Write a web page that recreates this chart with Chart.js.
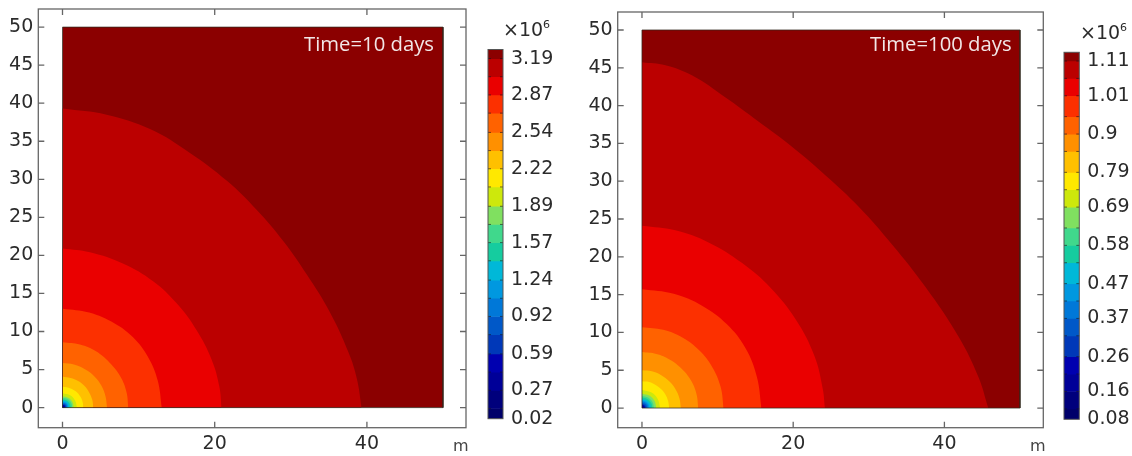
<!DOCTYPE html>
<html lang="en">
<head>
    <meta charset="UTF-8">
    <title>Pressure contours at 10 and 100 days</title>
    <script src="https://cdn.jsdelivr.net/npm/chart.js"></script>
    <style>
        html, body { margin: 0; padding: 0; background: #fff; }
        body { position: relative; width: 1132px; height: 456px; overflow: hidden; font-family: "DejaVu Sans", sans-serif; color: #2b2b2b; }
        canvas { position: absolute; top: 0; filter: blur(0.45px); }
        .note { position: absolute; white-space: nowrap; filter: blur(0.3px); }
        .time { font-family: "Open Sans", sans-serif; font-size: 20.3px; color: #f2e6e6; }
        .mult { font-size: 19px; }
        .mult sup { font-size: 11px; position: relative; top: -8px; vertical-align: baseline; }
        .unit { font-size: 16px; color: #444; }
    </style>
</head>
<body>
    <canvas id="plot10" width="480" height="456" style="left:0"></canvas>
    <canvas id="bar10" width="72" height="456" style="left:487px"></canvas>
    <canvas id="plot100" width="470" height="456" style="left:580px"></canvas>
    <canvas id="bar100" width="68" height="456" style="left:1063px"></canvas>

    <div class="note time" style="left:304px;top:29px">Time=10 days</div>
    <div class="note time" style="left:870px;top:29px">Time=100 days</div>
    <div class="note mult" style="left:503px;top:18px">×10<sup>6</sup></div>
    <div class="note mult" style="left:1080px;top:21px">×10<sup>6</sup></div>
    <div class="note unit" style="left:453px;top:436px">m</div>
    <div class="note unit" style="left:1030px;top:436px">m</div>

    <script>
    const xTicks = [0, 20, 40];
    const yTicks = [0, 5, 10, 15, 20, 25, 30, 35, 40, 45, 50];

    // same colour table on both plots, outer band first
    const bandColors = ['#8b0000', '#bb0000', '#ea0000', '#fc3000', '#ff6200', '#ff9000', '#ffc000', '#ffe800',
        '#cde80c', '#80e060', '#40d88c', '#15cc9f', '#00b8d8', '#0098e0', '#0078d8', '#0058c8',
        '#0038b8', '#0000b0', '#000098', '#00007c', '#00006a'];

    // colour bar edges, top to bottom
    const levels10 = [3.27, 3.19, 3.03, 2.87, 2.71, 2.54, 2.38, 2.22, 2.06, 1.89, 1.73, 1.57, 1.41, 1.24, 1.08, 0.92, 0.76, 0.59, 0.43, 0.27, 0.11, 0.02];
    const barLabels10 = [3.19, 2.87, 2.54, 2.22, 1.89, 1.57, 1.24, 0.92, 0.59, 0.27, 0.02];
    const levels100 = [1.135, 1.11, 1.06, 1.01, 0.95, 0.9, 0.85, 0.79, 0.74, 0.69, 0.63, 0.58, 0.53, 0.47, 0.42, 0.37, 0.32, 0.26, 0.21, 0.16, 0.11, 0.08];
    const barLabels100 = [1.11, 1.01, 0.9, 0.79, 0.69, 0.58, 0.47, 0.37, 0.26, 0.16, 0.08];

    // band outlines, in metres
    const contours10 = [
        [[0, 50], [50, 50]],
        [[0, 39.3], [5.8, 38.5], [11.5, 36.6], [16.7, 33.5], [21.6, 29.8], [25.5, 26], [29, 21.9], [32.1, 17.5], [35.1, 12.6], [37.6, 7.2], [38.7, 3.7], [39.3, 0]],
        [[0, 20.9], [3.6, 20.4], [8, 18.9], [11.9, 16.6], [15, 13.7], [17.6, 10.2], [19.6, 6.3], [20.6, 2.8], [20.9, 0]],
        [[0, 13], [3.5, 12.5], [6.8, 11.1], [9.3, 9.2], [11.2, 6.7], [12.5, 3.6], [13.05, 0]],
        [[0, 8.6], [2.3, 8.3], [4.4, 7.4], [6.2, 5.9], [7.6, 4.1], [8.4, 2.1], [8.65, 0]],
        [[0, 5.85], [1.5, 5.65], [3, 5], [4.2, 4.1], [5.1, 2.9], [5.65, 1.5], [5.85, 0]],
        [[0, 4.05], [1.05, 3.9], [2.05, 3.5], [2.9, 2.85], [3.5, 2], [3.9, 1.05], [4.05, 0]],
        [[0, 2.75], [0.7, 2.65], [1.4, 2.35], [1.95, 1.95], [2.4, 1.35], [2.65, 0.7], [2.75, 0]],
        [[0, 1.9], [0.95, 1.65], [1.65, 0.95], [1.9, 0]],
        [[0, 1.5], [0.75, 1.3], [1.3, 0.75], [1.5, 0]],
        [[0, 1.3], [0.65, 1.13], [1.13, 0.65], [1.3, 0]],
        [[0, 1.1], [0.55, 0.95], [0.95, 0.55], [1.1, 0]],
        [[0, 0.95], [0.48, 0.82], [0.82, 0.48], [0.95, 0]],
        [[0, 0.8], [0.4, 0.69], [0.69, 0.4], [0.8, 0]],
        [[0, 0.68], [0.34, 0.59], [0.59, 0.34], [0.68, 0]],
        [[0, 0.58], [0.29, 0.5], [0.5, 0.29], [0.58, 0]],
        [[0, 0.48], [0.24, 0.42], [0.42, 0.24], [0.48, 0]],
        [[0, 0.38], [0.19, 0.33], [0.33, 0.19], [0.38, 0]],
        [[0, 0.28], [0.14, 0.24], [0.24, 0.14], [0.28, 0]],
        [[0, 0.18], [0.09, 0.16], [0.16, 0.09], [0.18, 0]],
        [[0, 0.1], [0.05, 0.09], [0.09, 0.05], [0.1, 0]]
    ];
    const contours100 = [
        [[0, 50], [50, 50]],
        [[0, 45.75], [3.1, 45.35], [6.6, 44], [11, 41.1], [15.4, 37.9], [19.8, 34.6], [24.25, 30.8], [28.7, 26.6], [33.1, 21.6], [37.5, 16], [41.9, 9.4], [44.5, 4.1], [45.8, 0]],
        [[0, 24.1], [4.4, 23.5], [8.8, 21.9], [13.2, 19.2], [17, 15.9], [20.4, 11.6], [22.8, 6.9], [23.9, 2.6], [24.2, 0]],
        [[0, 15.7], [4.2, 15.1], [8, 13.5], [11.2, 11.1], [13.7, 7.9], [15.2, 4.1], [15.8, 0]],
        [[0, 10.7], [2.8, 10.35], [5.4, 9.3], [7.6, 7.6], [9.3, 5.4], [10.4, 2.8], [10.8, 0]],
        [[0, 7.4], [1.9, 7.15], [3.7, 6.4], [5.25, 5.2], [6.45, 3.7], [7.2, 1.9], [7.45, 0]],
        [[0, 5], [1.3, 4.85], [2.55, 4.35], [3.6, 3.55], [4.4, 2.55], [4.95, 1.3], [5.15, 0]],
        [[0, 3.55], [0.95, 3.45], [1.8, 3.05], [2.55, 2.5], [3.1, 1.8], [3.45, 0.95], [3.6, 0]],
        [[0, 2.4], [1.2, 2.08], [2.08, 1.2], [2.4, 0]],
        [[0, 1.9], [0.95, 1.65], [1.65, 0.95], [1.9, 0]],
        [[0, 1.6], [0.8, 1.39], [1.39, 0.8], [1.6, 0]],
        [[0, 1.4], [0.7, 1.21], [1.21, 0.7], [1.4, 0]],
        [[0, 1.2], [0.6, 1.04], [1.04, 0.6], [1.2, 0]],
        [[0, 1], [0.5, 0.87], [0.87, 0.5], [1, 0]],
        [[0, 0.85], [0.43, 0.74], [0.74, 0.43], [0.85, 0]],
        [[0, 0.7], [0.35, 0.61], [0.61, 0.35], [0.7, 0]],
        [[0, 0.55], [0.28, 0.48], [0.48, 0.28], [0.55, 0]],
        [[0, 0.42], [0.21, 0.36], [0.36, 0.21], [0.42, 0]],
        [[0, 0.3], [0.15, 0.26], [0.26, 0.15], [0.3, 0]],
        [[0, 0.18], [0.09, 0.16], [0.16, 0.09], [0.18, 0]],
        [[0, 0.1], [0.05, 0.09], [0.09, 0.05], [0.1, 0]]
    ];
    const domainEdge = [[0, 0], [0, 50], [50, 50], [50, 0], [0, 0]];

    const labelFont = { family: '"DejaVu Sans"', size: 19 };
    const labelColor = '#2b2b2b';

    // ticks point inward from the frame on all four sides
    const frameTicks = {
        id: 'frameTicks',
        afterDraw(chart) {
            const { ctx, chartArea: a, scales: { x, y } } = chart;
            const len = 6;
            ctx.save();
            ctx.strokeStyle = '#666';
            ctx.lineWidth = 1.3;
            ctx.strokeRect(a.left, a.top, a.right - a.left, a.bottom - a.top);
            ctx.beginPath();
            x.ticks.forEach(t => {
                const px = x.getPixelForValue(t.value);
                ctx.moveTo(px, a.top); ctx.lineTo(px, a.top + len);
                ctx.moveTo(px, a.bottom); ctx.lineTo(px, a.bottom - len);
            });
            y.ticks.forEach(t => {
                const py = y.getPixelForValue(t.value);
                ctx.moveTo(a.left, py); ctx.lineTo(a.left + len, py);
                ctx.moveTo(a.right, py); ctx.lineTo(a.right - len, py);
            });
            ctx.stroke();
            ctx.restore();
        }
    };

    function contourPlot(id, contours, box) {
        // lower order is painted on top, so the inner bands get the lowest
        const datasets = contours.map((pts, i) => ({
            data: pts.map(p => ({ x: p[0], y: p[1] })),
            order: contours.length - i,
            showLine: true,
            fill: 'origin',
            tension: 0.4,
            borderWidth: 0,
            pointRadius: 0,
            backgroundColor: bandColors[i]
        }));
        datasets.push({
            data: domainEdge.map(p => ({ x: p[0], y: p[1] })),
            order: 0,
            showLine: true,
            fill: false,
            borderWidth: 1,
            borderColor: 'rgba(50,40,30,0.75)',
            pointRadius: 0
        });
        return new Chart(document.getElementById(id), {
            type: 'scatter',
            data: { datasets },
            plugins: [frameTicks],
            options: {
                responsive: false,
                animation: false,
                layout: { autoPadding: false, padding: { top: box.top, right: box.right, left: 0, bottom: 0 } },
                plugins: { legend: { display: false }, tooltip: { enabled: false } },
                scales: {
                    x: {
                        type: 'linear',
                        min: box.xMin,
                        max: box.xMax,
                        afterBuildTicks: s => { s.ticks = xTicks.map(value => ({ value })); },
                        afterFit: s => { s.height = box.axisHeight; s.paddingLeft = 0; s.paddingRight = 0; },
                        grid: { display: false, drawTicks: false },
                        border: { display: false },
                        ticks: { font: labelFont, color: labelColor, padding: 5, maxRotation: 0, autoSkip: false }
                    },
                    y: {
                        type: 'linear',
                        min: box.yMin,
                        max: box.yMax,
                        afterBuildTicks: s => { s.ticks = yTicks.map(value => ({ value })); },
                        afterFit: s => { s.width = box.axisWidth; s.paddingTop = 0; s.paddingBottom = 0; },
                        grid: { display: false, drawTicks: false },
                        border: { display: false },
                        ticks: { font: labelFont, color: labelColor, padding: 5, autoSkip: false }
                    }
                }
            }
        });
    }

    const barTicks = {
        id: 'barTicks',
        afterDraw(chart) {
            const { ctx, chartArea: a } = chart;
            const levels = chart.options.plugins.barTicks.levels;
            ctx.save();
            ctx.strokeStyle = 'rgba(20,20,30,0.6)';
            ctx.lineWidth = 1;
            ctx.beginPath();
            levels.slice(1, -1).forEach(v => {
                const py = chart.scales.y.getPixelForValue(v);
                ctx.moveTo(a.left, py); ctx.lineTo(a.left + 3, py);
                ctx.moveTo(a.right, py); ctx.lineTo(a.right - 3, py);
            });
            ctx.stroke();
            ctx.strokeStyle = '#555';
            ctx.strokeRect(a.left, a.top, a.right - a.left, a.bottom - a.top);
            ctx.restore();
        }
    };

    function colorBar(id, levels, labels, box) {
        const datasets = bandColors.map((c, i) => ({
            data: [[levels[i + 1], levels[i]]],
            backgroundColor: c,
            borderWidth: 0,
            grouped: false,
            barPercentage: 1,
            categoryPercentage: 1
        }));
        return new Chart(document.getElementById(id), {
            type: 'bar',
            data: { labels: [''], datasets },
            plugins: [barTicks],
            options: {
                responsive: false,
                animation: false,
                layout: { autoPadding: false, padding: { top: box.top, bottom: box.bottom, left: 1, right: 0 } },
                plugins: { legend: { display: false }, tooltip: { enabled: false }, barTicks: { levels } },
                scales: {
                    x: { display: false },
                    y: {
                        position: 'right',
                        min: levels[levels.length - 1],
                        max: levels[0],
                        afterBuildTicks: s => { s.ticks = labels.map(value => ({ value })); },
                        afterFit: s => { s.width = box.axisWidth; },
                        grid: { display: false, drawTicks: false },
                        border: { display: false },
                        ticks: { font: labelFont, color: labelColor, padding: 8, autoSkip: false, callback: v => String(v) }
                    }
                }
            }
        });
    }

    contourPlot('plot10', contours10, {
        top: 9, right: 14, axisWidth: 38.3, axisHeight: 28.3,
        xMin: -3.18, xMax: 53.02, yMin: -2.64, yMax: 52.38
    });
    contourPlot('plot100', contours100, {
        top: 12, right: 6.7, axisWidth: 37.7, axisHeight: 28.3,
        xMin: -3.21, xMax: 53.08, yMin: -2.6, yMax: 52.38
    });
    colorBar('bar10', levels10, barLabels10, { top: 49.5, bottom: 37.3, axisWidth: 56 });
    colorBar('bar100', levels100, barLabels100, { top: 52.3, bottom: 36.7, axisWidth: 51.7 });
    </script>
</body>
</html>
